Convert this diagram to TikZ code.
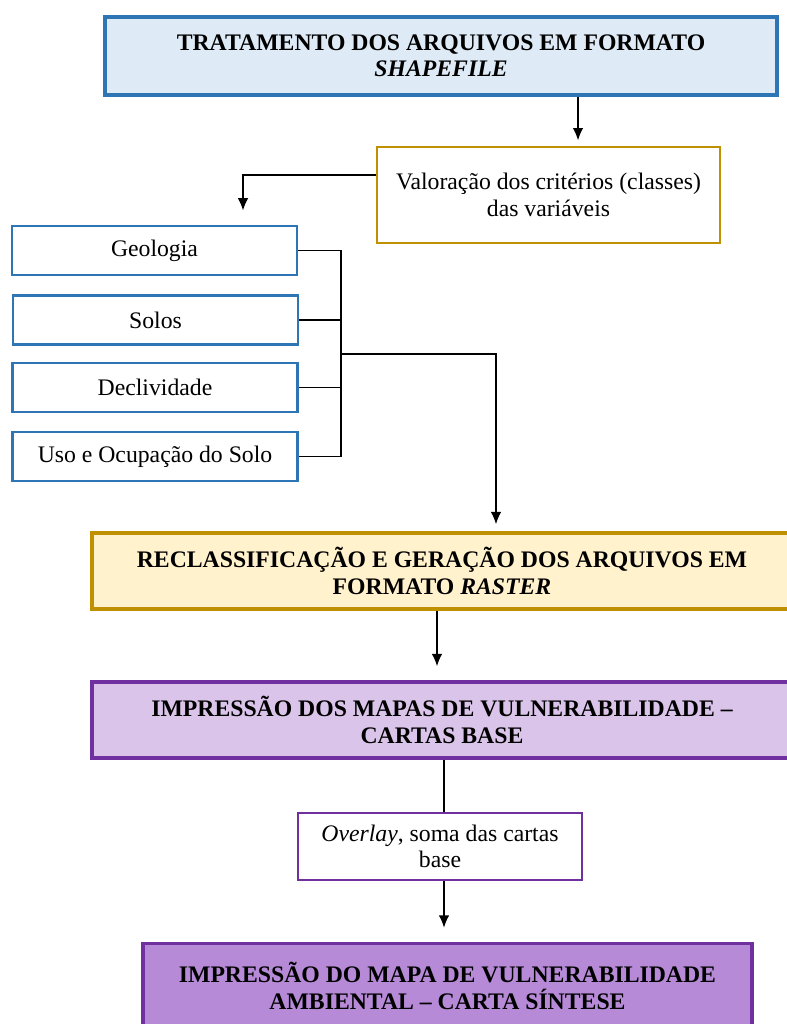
\documentclass[tikz,border=0pt]{standalone}
\usepackage{fontspec}
\setmainfont{Liberation Serif}
\usetikzlibrary{arrows.meta}
\definecolor{azul}{HTML}{2E75B6}
\definecolor{azulclaro}{HTML}{DEEBF7}
\definecolor{ouro}{HTML}{BF9000}
\definecolor{ouroclaro}{HTML}{FFF2CC}
\definecolor{roxo}{HTML}{7030A0}
\definecolor{roxoclaro}{HTML}{DAC4EA}
\definecolor{roxomedio}{HTML}{B68AD7}
\begin{document}
\begin{tikzpicture}[x=0.02cm,y=-0.02cm,font=\fontsize{13.5}{15}\selectfont]
    \tikzstyle{caixa}=[rectangle,align=center,inner sep=2pt,line width=2pt]
    \tikzstyle{titulo}=[caixa,font=\fontsize{13.5}{15}\selectfont\bfseries]
    \tikzstyle{var}=[caixa,draw=azul,fill=white,minimum width=5.7cm,minimum height=0.98cm,line width=1.6pt]
    \tikzstyle{seta}=[-{Latex[length=7pt,width=6pt]},line width=0.8pt]
    \tikzstyle{linha}=[line width=0.8pt]
    \useasboundingbox (0,0) rectangle (787,1024);
    \node[titulo,draw=azul,fill=azulclaro,minimum width=13.44cm,minimum height=1.56cm] (trat) at (441,56)
        {TRATAMENTO DOS ARQUIVOS EM FORMATO\\\textit{SHAPEFILE}};
    \node[caixa,draw=ouro,fill=white,minimum width=6.86cm,minimum height=1.92cm,line width=1.6pt] (valor) at (548.5,195)
        {Valoração dos critérios (classes)\\das variáveis};
    \node[var] (geo) at (154.5,250.5){Geologia};
    \node[var] (solos) at (155.5,320){Solos};
    \node[var] (decl) at (155,387.5){Declividade};
    \node[var] (uso) at (155,456.5){Uso e Ocupação do Solo};
    \node[titulo,draw=ouro,fill=ouroclaro,minimum width=14cm,minimum height=1.52cm] (recl) at (442,571)
        {RECLASSIFICAÇÃO E GERAÇÃO DOS ARQUIVOS EM\\FORMATO \textit{RASTER}};
    \node[titulo,draw=roxo,fill=roxoclaro,minimum width=14cm,minimum height=1.52cm] (impr) at (442,720)
        {IMPRESSÃO DOS MAPAS DE VULNERABILIDADE --\\CARTAS BASE};
    \node[caixa,draw=roxo,fill=white,minimum width=5.68cm,minimum height=1.34cm,line width=1.6pt] (over) at (440,846.5)
        {\textit{Overlay}, soma das cartas\\base};
    \node[titulo,draw=roxo,fill=roxomedio,minimum width=12.18cm,minimum height=1.7cm] (sint) at (447.5,986)
        {IMPRESSÃO DO MAPA DE VULNERABILIDADE\\AMBIENTAL -- CARTA SÍNTESE};
    \coordinate (c1) at (578,0);
    \coordinate (c2) at (243,175);
    \coordinate (bar) at (341,354);
    \coordinate (c3) at (496,0);
    \coordinate (c4) at (437,0);
    \coordinate (c5) at (444,0);
    \draw[seta,shorten >=3pt] (trat.south -| c1) -- (valor.north -| c1);
    \draw[seta,shorten >=8pt] (valor.west |- c2) -| (geo.north -| c2);
    \draw[linha] (geo.east) -| (bar) |- (uso.east);
    \draw[linha] (solos.east) -- (solos.east -| bar);
    \draw[linha] (decl.east) -- (decl.east -| bar);
    \draw[seta,shorten >=4pt] (bar) -| (recl.north -| c3);
    \draw[seta,shorten >=8pt] (recl.south -| c4) -- (impr.north -| c4);
    \draw[linha] (impr.south -| c5) -- (over.north -| c5);
    \draw[seta,shorten >=8pt] (over.south -| c5) -- (sint.north -| c5);
\end{tikzpicture}
\end{document}
